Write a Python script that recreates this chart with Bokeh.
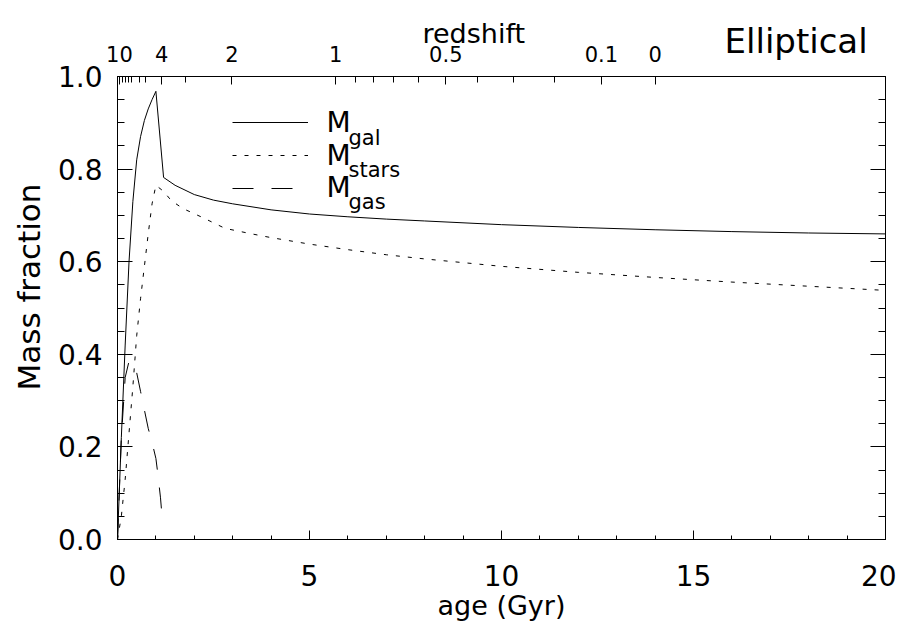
from bokeh.plotting import figure
from bokeh.models import (Range1d, LinearAxis, FixedTicker, SingleIntervalTicker, Title,
                          PrintfTickFormatter, Label, Legend, LegendItem, CustomJSTickFormatter)
from bokeh.embed import file_html
from bokeh.resources import INLINE

# ---- data ----
age_gal = [0.0, 0.1, 0.2, 0.3, 0.4, 0.5, 0.6, 0.7, 0.8, 0.9, 1.0, 1.2, 1.5, 2.0, 2.5, 3.0,
           4.0, 5.0, 6.0, 7.0, 8.0, 10.0, 12.0, 14.0, 16.0, 18.0, 20.0]
m_gal = [0.0, 0.22, 0.42, 0.60, 0.73, 0.82, 0.87, 0.905, 0.93, 0.95, 0.968, 0.782, 0.765, 0.745,
         0.733, 0.725, 0.712, 0.703, 0.697, 0.692, 0.688, 0.680, 0.674, 0.669, 0.665, 0.662, 0.660]

age_stars = [0.0, 0.1, 0.2, 0.3, 0.4, 0.5, 0.6, 0.7, 0.8, 0.9, 1.0, 1.2, 1.4, 1.7, 2.2, 2.8,
             3.5, 4.0, 5.0, 6.0, 7.0, 8.0, 10.0, 12.0, 14.0, 16.0, 18.0, 20.0]
m_stars = [0.0, 0.05, 0.13, 0.23, 0.33, 0.44, 0.52, 0.59, 0.66, 0.725, 0.765, 0.752, 0.732,
           0.715, 0.696, 0.672, 0.660, 0.652, 0.638, 0.626, 0.615, 0.606, 0.590, 0.577,
           0.566, 0.556, 0.547, 0.538]

age_gas = [0.0, 0.1, 0.2, 0.3, 0.4, 0.5, 0.6, 0.7, 0.8, 0.9, 1.0, 1.05, 1.12, 1.16]
m_gas = [0.0, 0.22, 0.35, 0.385, 0.385, 0.36, 0.32, 0.28, 0.24, 0.21, 0.175, 0.142, 0.09, 0.05]

# redshift scale on the top axis (age position of each redshift tick)
z_labels = ["10", "4", "2", "1", "0.5", "0.1", "0"]
z_label_ages = [0.05, 1.15, 2.98, 5.68, 8.55, 12.6, 14.0]
z_minor_ages = [0.12, 0.2, 0.28, 0.36, 0.57, 0.73, 1.77, 6.2, 6.67, 7.19, 7.84, 9.37, 10.3, 11.38]

series_names = ["gal", "stars", "gas"]

FONT = "DejaVu Sans"

p = figure(width=905, height=629, output_backend="svg", toolbar_location=None,
           x_range=Range1d(0, 20), y_range=Range1d(0, 1.0),
           x_axis_location=None, y_axis_location=None, title_location=None,
           min_border_left=117, min_border_right=20, min_border_top=76, min_border_bottom=90)
p.grid.visible = False
p.outline_line_color = "black"
p.outline_line_width = 1
p.outline_line_alpha = 1
p.background_fill_color = "white"
p.border_fill_color = "white"


def style_axis(ax, major_in, minor_in):
    ax.axis_line_color = "black"
    ax.major_tick_line_color = "black"
    ax.minor_tick_line_color = "black"
    ax.major_tick_in = major_in
    ax.major_tick_out = 0
    ax.minor_tick_in = minor_in
    ax.minor_tick_out = 0
    ax.major_label_text_font = FONT
    ax.major_label_text_color = "black"
    ax.axis_label_text_font = FONT
    ax.axis_label_text_font_style = "normal"
    ax.axis_label_text_color = "black"


def text_title(text, size, **kw):
    return Title(text=text, text_font=FONT, text_font_size=size, text_font_style="normal",
                 text_color="black", **kw)


bottom = LinearAxis(ticker=SingleIntervalTicker(interval=5, num_minor_ticks=5),
                    axis_label="age (Gyr)",
                    major_label_overrides={20: "20\u00a0"})
style_axis(bottom, 9, 4)
bottom.major_label_text_font_size = "28px"
bottom.major_label_standoff = 20
bottom.axis_label_text_font_size = "27px"
bottom.axis_label_standoff = -6
p.add_layout(bottom, "below")

left = LinearAxis(ticker=SingleIntervalTicker(interval=0.2, num_minor_ticks=4),
                  formatter=PrintfTickFormatter(format="%.1f"))
style_axis(left, 15, 7)
left.major_label_text_font_size = "28px"
left.major_label_standoff = 15
p.add_layout(left, "left")
p.add_layout(text_title("Mass fraction", "31px", align="left", vertical_align="top",
                        standoff=12, offset=149), "left")

right = LinearAxis(ticker=SingleIntervalTicker(interval=0.2, num_minor_ticks=4),
                   formatter=CustomJSTickFormatter(code="return ''"))
style_axis(right, 15, 7)
right.major_label_standoff = 0
p.add_layout(right, "right")

p.extra_x_ranges = {"z": Range1d(0, 20)}
top = LinearAxis(x_range_name="z",
                 ticker=FixedTicker(ticks=z_label_ages, minor_ticks=z_minor_ages),
                 major_label_overrides={a: s for a, s in zip(z_label_ages, z_labels)})
style_axis(top, 8, 6)
top.major_label_text_font_size = "21px"
top.major_label_standoff = 15
p.add_layout(top, "above")

p.add_layout(text_title("Elliptical", "34px", align="left", vertical_align="top",
                        standoff=-41, offset=607), "above")
p.add_layout(text_title("redshift", "27px", align="left", vertical_align="top",
                        standoff=-18, offset=305), "above")

r_gal = p.line(age_gal, m_gal, line_color="black", line_width=1)
r_stars = p.line(age_stars, m_stars, line_color="black", line_width=1, line_dash="4 8")
r_gas = p.line(age_gas, m_gas, line_color="black", line_width=1, line_dash="21 18")

legend = Legend(items=[LegendItem(label=" ", renderers=[r]) for r in (r_gal, r_stars, r_gas)],
                location=(115, 335), glyph_width=76, glyph_height=32, spacing=1,
                padding=0, margin=0, border_line_alpha=0, background_fill_alpha=0,
                label_standoff=0, label_width=0, label_height=32,
                label_text_font_size="1px")
p.add_layout(legend, "center")

# legend texts: M with subscripts
row_y = [0.9006, 0.8294, 0.7603]
for yy, name in zip(row_y, series_names):
    p.add_layout(Label(x=5.443, y=yy, text="M", text_font=FONT, text_font_size="28px",
                       text_color="black", text_baseline="alphabetic", text_align="left"))
    p.add_layout(Label(x=6.016, y=yy, y_offset=-15, text=name, text_font=FONT,
                       text_font_size="21px", text_color="black",
                       text_baseline="alphabetic", text_align="left"))

open("out.html", "w").write(file_html(p, INLINE))
